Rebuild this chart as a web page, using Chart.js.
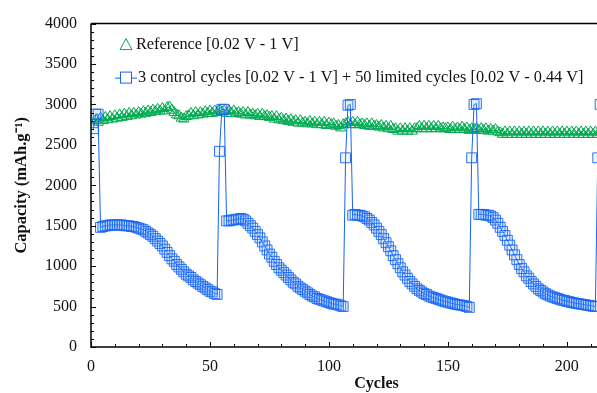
<!DOCTYPE html>
<html>
<head>
<meta charset="utf-8">
<script src="https://cdn.jsdelivr.net/npm/chart.js@4.4.1/dist/chart.umd.min.js"></script>
<style>
  html, body { margin: 0; padding: 0; background: #fff; overflow: hidden; }
  #wrap { width: 597px; height: 393px; overflow: hidden; }
</style>
</head>
<body>
<div id="wrap"><canvas id="myChart" width="680" height="393"></canvas></div>
<script>
// Legend texts
var seriesNames = ['Reference [0.02 V - 1 V]', '3 control cycles [0.02 V - 1 V] + 50 limited cycles [0.02 V - 0.44 V]'];

// Reference cycling, capacity per cycle (cycle 1 onwards)
var referenceCapacity = [
  2750, 2810, 2780, 2830, 2800, 2840, 2810, 2850, 2820, 2860,
  2830, 2870, 2840, 2880, 2850, 2890, 2860, 2890, 2870, 2900,
  2880, 2910, 2890, 2920, 2900, 2930, 2910, 2940, 2920, 2950,
  2920, 2960, 2970, 2930, 2900, 2870, 2860, 2830, 2820, 2850,
  2860, 2890, 2860, 2900, 2870, 2900, 2880, 2910, 2890, 2920,
  2890, 2920, 2900, 2930, 2910, 2920, 2890, 2920, 2890, 2920,
  2890, 2900, 2880, 2900, 2870, 2900, 2870, 2880, 2860, 2880,
  2850, 2880, 2850, 2860, 2840, 2850, 2820, 2850, 2810, 2830,
  2800, 2820, 2790, 2810, 2780, 2800, 2770, 2800, 2770, 2780,
  2760, 2790, 2760, 2780, 2750, 2780, 2750, 2780, 2740, 2770,
  2750, 2760, 2730, 2740, 2710, 2750, 2760, 2780, 2750, 2780,
  2750, 2780, 2750, 2760, 2740, 2760, 2730, 2760, 2730, 2740,
  2720, 2740, 2710, 2730, 2700, 2730, 2690, 2700, 2670, 2700,
  2670, 2700, 2670, 2700, 2670, 2700, 2700, 2730, 2700, 2730,
  2700, 2730, 2700, 2730, 2700, 2730, 2700, 2710, 2700, 2710,
  2690, 2720, 2690, 2710, 2690, 2720, 2690, 2710, 2680, 2700,
  2690, 2700, 2680, 2700, 2680, 2700, 2670, 2690, 2670, 2690,
  2660, 2650, 2630, 2660, 2630, 2660, 2630, 2660, 2630, 2660,
  2630, 2660, 2630, 2660, 2630, 2660, 2630, 2660, 2630, 2660,
  2630, 2660, 2630, 2660, 2630, 2660, 2630, 2660, 2630, 2660,
  2630, 2660, 2630, 2660, 2630, 2660, 2630, 2660, 2630, 2660,
  2630, 2660, 2630, 2660
];

// 3 control + 50 limited cycles, repeated (cycle 1 onwards)
var limitedCapacity = [
  // control
  2700, 2880, 2880,
  // limited
  1480, 1490, 1500, 1500, 1510, 1510, 1510, 1510, 1510, 1510,
  1500, 1500, 1500, 1490, 1490, 1480, 1470, 1460, 1450, 1430,
  1410, 1390, 1370, 1340, 1310, 1280, 1250, 1210, 1170, 1130,
  1090, 1060, 1020, 990, 960, 930, 900, 880, 860, 830,
  810, 790, 770, 750, 730, 710, 690, 680, 660, 650,
  // control
  2420, 2940, 2940,
  // limited
  1560, 1560, 1570, 1570, 1580, 1580, 1590, 1580, 1560, 1530,
  1500, 1470, 1430, 1390, 1350, 1300, 1250, 1200, 1150, 1110,
  1060, 1020, 980, 950, 920, 890, 860, 830, 800, 780,
  750, 730, 710, 690, 670, 650, 630, 620, 600, 590,
  580, 570, 560, 550, 540, 530, 530, 520, 510, 500,
  // control
  2340, 2990, 3000,
  // limited
  1630, 1640, 1630, 1630, 1620, 1610, 1590, 1570, 1540, 1510,
  1470, 1430, 1390, 1340, 1290, 1240, 1190, 1130, 1080, 1030,
  980, 930, 890, 850, 810, 780, 750, 720, 700, 680,
  660, 650, 630, 620, 610, 600, 590, 580, 570, 560,
  555, 545, 540, 530, 525, 520, 515, 510, 500, 490,
  // control
  2340, 3000, 3010,
  // limited
  1640, 1640, 1640, 1630, 1630, 1620, 1600, 1570, 1530, 1480,
  1430, 1380, 1320, 1260, 1200, 1140, 1080, 1020, 970, 930,
  880, 850, 810, 780, 750, 720, 700, 680, 660, 645,
  630, 620, 610, 600, 590, 580, 575, 565, 560, 550,
  545, 540, 535, 530, 525, 520, 515, 510, 505, 500,
  // control
  2340, 3000
];

var xTickValues = [0, 50, 100, 150, 200];
var yTickValues = [0, 500, 1000, 1500, 2000, 2500, 3000, 3500, 4000];

var greenColor = 'rgb(0,170,80)';
var blueColor = 'rgb(20,100,245)';
var serif = '"Liberation Serif", "Times New Roman", serif';

function toPoints(values) {
    return values.map(function(v, i) { return { x: i + 1, y: v }; });
}

// frame, inward ticks and the legend inside the plot
var framePlugin = {
    id: 'frame',
    afterDraw: function(chart) {
        var ctx = chart.ctx;
        var a = chart.chartArea;
        var xs = chart.scales.x, ys = chart.scales.y;
        ctx.save();
        ctx.strokeStyle = '#000';
        ctx.lineWidth = 1.5;
        ctx.beginPath();
        ctx.moveTo(a.left, a.top);
        ctx.lineTo(a.left, a.bottom);
        ctx.lineTo(a.right, a.bottom);
        ctx.moveTo(a.left, a.top);
        ctx.lineTo(a.right, a.top);
        ctx.stroke();

        ctx.lineWidth = 1;
        ctx.beginPath();
        for (var v = 0; v <= 4000; v += 100) {
            var py = Math.round(ys.getPixelForValue(v)) + 0.5;
            var len = (v % 500 === 0) ? 5 : 3;
            ctx.moveTo(a.left, py);
            ctx.lineTo(a.left + len, py);
        }
        for (var c = 0; c <= 240; c += 10) {
            var px = Math.round(xs.getPixelForValue(c)) + 0.5;
            var l2 = (c % 50 === 0) ? 5 : 3;
            ctx.moveTo(px, a.bottom);
            ctx.lineTo(px, a.bottom - l2);
        }
        ctx.stroke();

        // legend
        ctx.font = '16.3px ' + serif;
        ctx.fillStyle = '#111';
        ctx.textBaseline = 'middle';

        var tx = a.left + 35, ty = a.top + 21;
        ctx.strokeStyle = greenColor;
        ctx.lineWidth = 1;
        ctx.beginPath();
        ctx.moveTo(tx, ty - 6);
        ctx.lineTo(tx + 6, ty + 5);
        ctx.lineTo(tx - 6, ty + 5);
        ctx.closePath();
        ctx.stroke();
        ctx.fillText(seriesNames[0], a.left + 45, ty);

        var sx = a.left + 35, sy = a.top + 54;
        ctx.strokeStyle = blueColor;
        ctx.beginPath();
        ctx.moveTo(a.left + 24, sy + 0.5);
        ctx.lineTo(a.left + 46, sy + 0.5);
        ctx.stroke();
        ctx.fillStyle = '#fff';
        ctx.fillRect(sx - 5.5, sy - 5.5, 11, 11);
        ctx.strokeRect(sx - 5.5, sy - 5.5, 11, 11);
        ctx.fillStyle = '#111';
        ctx.fillText(seriesNames[1], a.left + 47, sy);
        ctx.restore();
    }
};

var ctx = document.getElementById('myChart').getContext('2d');
var chart = new Chart(ctx, {
    type: 'line',
    data: {
        datasets: [{
            label: seriesNames[1],
            data: toPoints(limitedCapacity),
            borderColor: blueColor,
            borderWidth: 1,
            backgroundColor: 'rgba(120,170,255,0.12)',
            pointStyle: 'rect',
            pointRadius: 7,
            pointBorderWidth: 1,
            pointBorderColor: 'rgba(20,100,245,0.9)',
            tension: 0
        }, {
            label: seriesNames[0],
            data: toPoints(referenceCapacity),
            borderColor: greenColor,
            borderWidth: 1.2,
            backgroundColor: 'rgba(0,0,0,0)',
            pointStyle: 'triangle',
            pointRadius: 6,
            pointBorderWidth: 1,
            pointBorderColor: greenColor,
            tension: 0
        }]
    },
    options: {
        responsive: false,
        animation: false,
        layout: { padding: { left: 0, top: 18, right: 18, bottom: 0 } },
        plugins: {
            legend: { display: false },
            tooltip: { enabled: false }
        },
        scales: {
            x: {
                type: 'linear',
                min: 0,
                max: 240,
                afterFit: function(scale) { scale.height = 46; },
                afterBuildTicks: function(scale) {
                    scale.ticks = xTickValues.map(function(v) { return { value: v }; });
                },
                grid: { display: false, drawTicks: false },
                border: { display: false },
                ticks: {
                    padding: 10,
                    color: '#111',
                    font: { family: serif, size: 16 },
                    callback: function(value) { return String(value); }
                },
                title: {
                    display: true,
                    text: 'Cycles',
                    color: '#111',
                    padding: { top: 0, bottom: 0 },
                    font: { family: serif, size: 16, weight: 'bold' }
                }
            },
            y: {
                min: 0,
                max: 4000,
                afterFit: function(scale) { scale.width = 91; },
                afterBuildTicks: function(scale) {
                    scale.ticks = yTickValues.map(function(v) { return { value: v }; });
                },
                grid: { display: false, drawTicks: false },
                border: { display: false },
                ticks: {
                    padding: 14,
                    color: '#111',
                    font: { family: serif, size: 16 },
                    callback: function(value) { return String(value); }
                },
                title: {
                    display: true,
                    text: 'Capacity (mAh.g⁻¹)',
                    color: '#111',
                    padding: { top: 12, bottom: 0 },
                    font: { family: serif, size: 16.5, weight: 'bold' }
                }
            }
        }
    },
    plugins: [framePlugin]
});
</script>
</body>
</html>
